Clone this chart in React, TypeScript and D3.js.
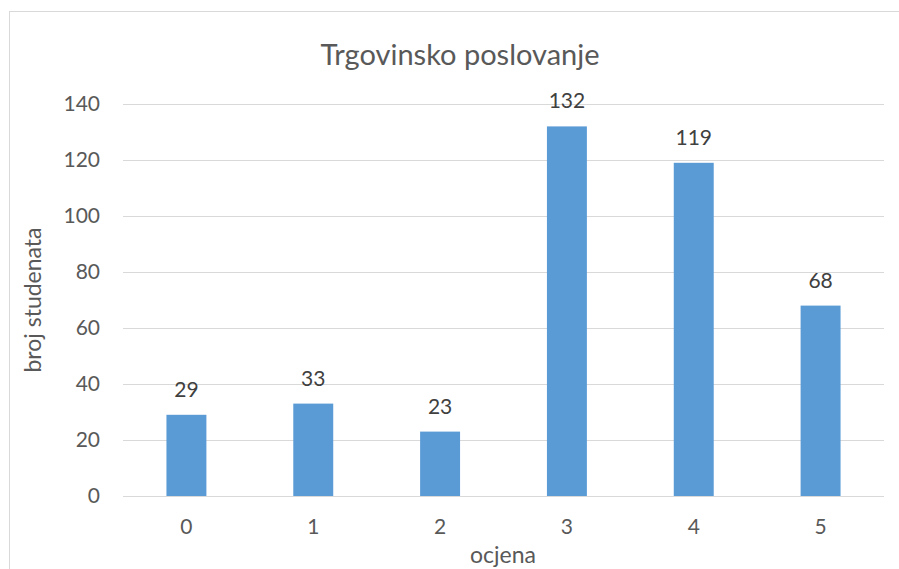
import React, { useEffect, useRef } from 'react';
import * as d3 from 'd3';

const grades = ['0', '1', '2', '3', '4', '5'];
const students = [29, 33, 23, 132, 119, 68];
const yTicks = [0, 20, 40, 60, 80, 100, 120, 140];

const App = () => {
  const ref = useRef(null);

  useEffect(() => {
    const W = 899;
    const H = 569;
    const font = 'Lato, "Open Sans", sans-serif';
    const textColor = '#595959';

    d3.select(ref.current).selectAll('*').remove();

    const svg = d3
      .select(ref.current)
      .append('svg')
      .attr('width', W)
      .attr('height', H)
      .style('position', 'absolute')
      .style('left', '0px')
      .style('top', '0px')
      .style('display', 'block');

    svg.append('rect').attr('width', W).attr('height', H).attr('fill', '#fff');

    // chart border (runs off right/bottom edge)
    svg
      .append('rect')
      .attr('x', 9.5)
      .attr('y', 11.5)
      .attr('width', 920)
      .attr('height', 600)
      .attr('fill', 'none')
      .attr('stroke', '#d9d9d9');

    const x = d3.scaleBand().domain(grades).range([123, 884]).paddingInner(0.685).paddingOuter(0.3425);
    const y = d3.scaleLinear().domain([0, 140]).range([496, 104]);

    const grid = svg.append('g');
    yTicks.forEach(t => {
      grid
        .append('line')
        .attr('x1', 123)
        .attr('x2', 884)
        .attr('y1', Math.round(y(t)) + 0.5)
        .attr('y2', Math.round(y(t)) + 0.5)
        .attr('stroke', '#d9d9d9')
        .attr('stroke-width', 1);
      grid
        .append('text')
        .attr('x', 100)
        .attr('y', y(t))
        .attr('dy', '0.35em')
        .attr('text-anchor', 'end')
        .style('font-family', font)
        .style('font-size', '21px')
        .style('fill', textColor)
        .text(t);
    });

    svg
      .append('g')
      .selectAll('rect')
      .data(students)
      .enter()
      .append('rect')
      .attr('x', (d, i) => x(grades[i]))
      .attr('width', x.bandwidth())
      .attr('y', d => y(d))
      .attr('height', d => y(0) - y(d))
      .attr('fill', '#5b9bd5');

    svg
      .append('g')
      .selectAll('text')
      .data(students)
      .enter()
      .append('text')
      .attr('x', (d, i) => x(grades[i]) + x.bandwidth() / 2)
      .attr('y', d => y(d) - 18)
      .attr('text-anchor', 'middle')
      .style('font-family', font)
      .style('font-size', '21px')
      .style('fill', '#404040')
      .text(d => d);

    svg
      .append('g')
      .selectAll('text')
      .data(grades)
      .enter()
      .append('text')
      .attr('x', d => x(d) + x.bandwidth() / 2)
      .attr('y', 527)
      .attr('dy', '0.35em')
      .attr('text-anchor', 'middle')
      .style('font-family', font)
      .style('font-size', '21px')
      .style('fill', textColor)
      .text(d => d);

    svg
      .append('text')
      .attr('x', 460)
      .attr('y', 55)
      .attr('dy', '0.35em')
      .attr('text-anchor', 'middle')
      .style('font-family', font)
      .style('font-size', '29px')
      .style('fill', textColor)
      .text('Trgovinsko poslovanje');

    svg
      .append('text')
      .attr('x', 503)
      .attr('y', 555)
      .attr('dy', '0.35em')
      .attr('text-anchor', 'middle')
      .style('font-family', font)
      .style('font-size', '23px')
      .style('fill', textColor)
      .text('ocjena');

    svg
      .append('text')
      .attr('transform', 'rotate(-90)')
      .attr('x', -300)
      .attr('y', 33)
      .attr('dy', '0.35em')
      .attr('text-anchor', 'middle')
      .style('font-family', font)
      .style('font-size', '23px')
      .style('fill', textColor)
      .text('broj studenata');
  }, []);

  return <div ref={ref}></div>;
};

export default App;
